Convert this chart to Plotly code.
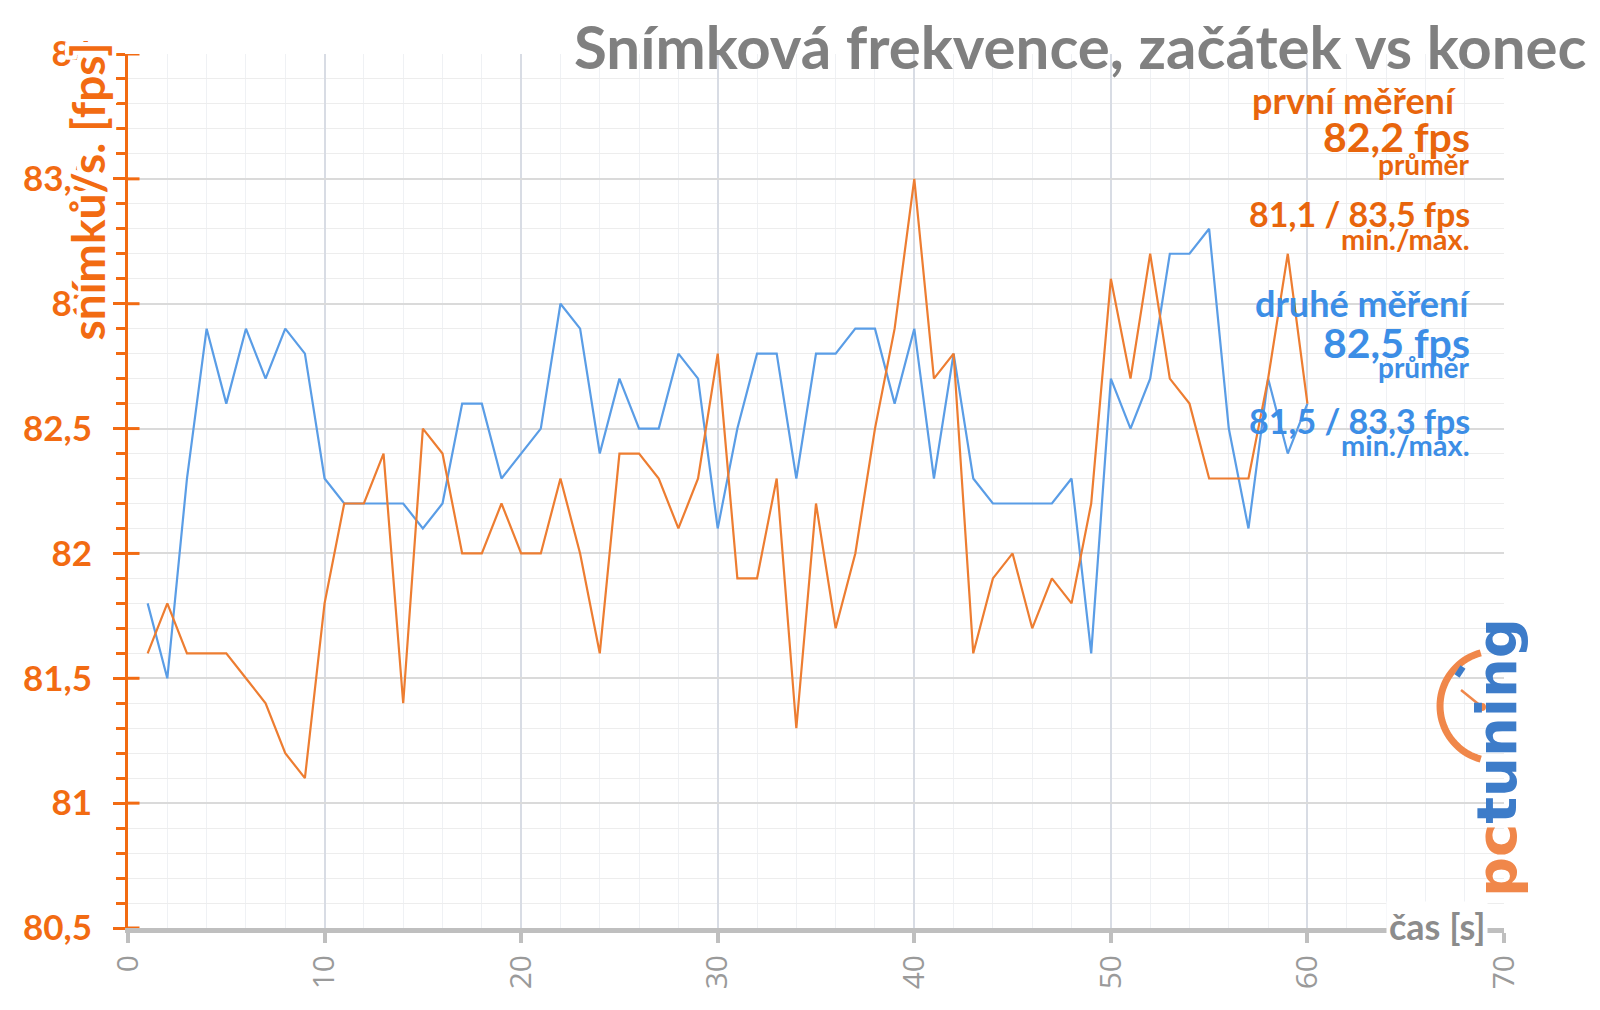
import plotly.graph_objects as go
import math

# ---------------- data ----------------
seconds = list(range(1, 61))
prvni_mereni = [81.6, 81.8, 81.6, 81.6, 81.6, 81.5, 81.4, 81.2, 81.1, 81.8,
                82.2, 82.2, 82.4, 81.4, 82.5, 82.4, 82.0, 82.0, 82.2, 82.0,
                82.0, 82.3, 82.0, 81.6, 82.4, 82.4, 82.3, 82.1, 82.3, 82.8,
                81.9, 81.9, 82.3, 81.3, 82.2, 81.7, 82.0, 82.5, 82.9, 83.5,
                82.7, 82.8, 81.6, 81.9, 82.0, 81.7, 81.9, 81.8, 82.2, 83.1,
                82.7, 83.2, 82.7, 82.6, 82.3, 82.3, 82.3, 82.7, 83.2, 82.6]
druhe_mereni = [81.8, 81.5, 82.3, 82.9, 82.6, 82.9, 82.7, 82.9, 82.8, 82.3,
                82.2, 82.2, 82.2, 82.2, 82.1, 82.2, 82.6, 82.6, 82.3, 82.4,
                82.5, 83.0, 82.9, 82.4, 82.7, 82.5, 82.5, 82.8, 82.7, 82.1,
                82.5, 82.8, 82.8, 82.3, 82.8, 82.8, 82.9, 82.9, 82.6, 82.9,
                82.3, 82.8, 82.3, 82.2, 82.2, 82.2, 82.2, 82.3, 81.6, 82.7,
                82.5, 82.7, 83.2, 83.2, 83.3, 82.5, 82.1, 82.7, 82.4, 82.6]

y_tickvals = [80.5, 81, 81.5, 82, 82.5, 83, 83.5, 84]
y_ticktext = ["80,5", "81", "81,5", "82", "82,5", "83", "83,5", "84"]
x_tickvals = [0, 10, 20, 30, 40, 50, 60, 70]
x_ticktext = ["0", "10", "20", "30", "40", "50", "60", "70"]

title_text = "Snímková frekvence, začátek vs konec"
y_title = "snímků/s. [fps]"
x_title = "čas [s]"
first_label = ["první měření ", "82,2 fps", "průměr", "81,1 / 83,5 fps", "min./max."]
second_label = ["druhé měření", "82,5 fps", "průměr", "81,5 / 83,3 fps", "min./max."]

# ---------------- styling ----------------
ORANGE_LINE = "#ed7d31"
BLUE_LINE = "#5a9de6"
ORANGE_TXT = "#e8650c"
BLUE_TXT = "#3c8ee6"
AXIS_ORANGE = "#f26b12"
GREY = "#808080"

OFF = 8  # page body margin in the browser
W, H = 1600 - OFF, 1010 - OFF
# plot area in window pixels
L, R, T, B = 127.5, 1504.0, 54.0, 928.0


def px(x):
    return (x - L) / (R - L)


def py(y):
    return (B - y) / (B - T)


fig = go.Figure()
fig.add_trace(go.Scatter(x=seconds, y=druhe_mereni, mode="lines",
                         line=dict(color=BLUE_LINE, width=2.2),
                         name="druhé měření", showlegend=False))
fig.add_trace(go.Scatter(x=seconds, y=prvni_mereni, mode="lines",
                         line=dict(color=ORANGE_LINE, width=2.2),
                         name="první měření", showlegend=False))

fig.update_layout(
    width=W, height=H,
    margin=dict(l=L - OFF, r=(W + OFF) - R, t=T - OFF, b=(H + OFF) - B, autoexpand=False),
    paper_bgcolor="white", plot_bgcolor="white",
    font=dict(family="Lato, Open Sans, sans-serif"),
    xaxis=dict(
        range=[0, 70], tickmode="array", tickvals=x_tickvals, ticktext=x_ticktext,
        tickangle=-90, tickfont=dict(family="Open Sans", size=30, color="#9a9a9a"),
        showline=True, linecolor="#bfbfbf", linewidth=5,
        ticks="outside", ticklen=10, tickwidth=4, tickcolor="#bfbfbf",
        showgrid=True, gridcolor="#d8dce4", gridwidth=1.5,
        minor=dict(tickmode="linear", tick0=0, dtick=2, showgrid=True,
                   gridcolor="#eff1f4", gridwidth=1, ticks=""),
        zeroline=False, fixedrange=True, ticklabelstandoff=0,
    ),
    yaxis=dict(
        range=[80.5, 84], tickmode="array", tickvals=y_tickvals, ticktext=y_ticktext,
        tickfont=dict(family="Lato", size=35, color=AXIS_ORANGE, weight="bold"),
        showline=True, linecolor=AXIS_ORANGE, linewidth=3,
        ticks="outside", ticklen=12, tickwidth=3, tickcolor=AXIS_ORANGE,
        showgrid=True, gridcolor="#dadada", gridwidth=2,
        minor=dict(tickmode="linear", tick0=80.5, dtick=0.1, showgrid=True,
                   gridcolor="#ededed", gridwidth=1, ticks="outside",
                   ticklen=9, tickwidth=3, tickcolor=AXIS_ORANGE),
        zeroline=False, fixedrange=True, ticklabelstandoff=14,
    ),
)

halo = ", ".join(f"{dx}px {dy}px 0 white" for dx in (-4, -2, 0, 2, 4) for dy in (-4, -2, 0, 2, 4))

ann = []
# title
ann.append(dict(text=title_text, x=px(1588), y=py(46), xref="paper", yref="paper",
                xanchor="right", yanchor="middle", showarrow=False,
                font=dict(family="Lato", size=60, color=GREY, weight="bold")))
# y axis title with white halo that hides overlapped tick labels, as in original
ann.append(dict(text=y_title, x=px(86), y=py(192), xref="paper", yref="paper",
                xanchor="center", yanchor="middle", showarrow=False, textangle=-90,
                font=dict(family="Lato", size=46, color=AXIS_ORANGE, weight="bold",
                          shadow=halo)))
# x axis title
ann.append(dict(text=x_title, x=px(1437), y=py(926), xref="paper", yref="paper",
                xanchor="center", yanchor="middle", showarrow=False,
                bgcolor="white", borderpad=2,
                font=dict(family="Lato", size=36, color="#8c8c8c", weight="bold")))

# stat labels
sizes = [36, 41, 28, 34, 29]
ys1 = [100, 136, 164, 214, 238]
ys2 = [303, 342, 367, 420, 444]
xs1 = [1465, 1472, 1472, 1472, 1472]
for txt, s, yy, xx in zip(first_label, sizes, ys1, xs1):
    ann.append(dict(text=txt, x=px(xx), y=py(yy), xref="paper", yref="paper",
                    xanchor="right", yanchor="middle", showarrow=False,
                    font=dict(family="Lato", size=s, color=ORANGE_TXT, weight="bold")))
for txt, s, yy in zip(second_label, sizes, ys2):
    ann.append(dict(text=txt, x=px(1472), y=py(yy), xref="paper", yref="paper",
                    xanchor="right", yanchor="middle", showarrow=False,
                    font=dict(family="Lato", size=s, color=BLUE_TXT, weight="bold")))

# logo text
ann.append(dict(text="<span style='color:#f0874a'>pc</span><span style='color:#3d7cc9'>tuning</span>",
                x=px(1496), y=py(758), xref="paper", yref="paper",
                xanchor="center", yanchor="middle", showarrow=False, textangle=-90,
                font=dict(family="DejaVu Sans", size=56, weight="bold")))
fig.update_layout(annotations=ann)

shapes = []
# major y ticks crossing the axis line (inner half)
for v in y_tickvals:
    shapes.append(dict(type="line", xref="paper", yref="y", x0=px(127.5), x1=px(139),
                       y0=v, y1=v, line=dict(color=AXIS_ORANGE, width=3), layer="above"))

# logo gauge arc (decoration)
cx, cy, r = 1495.0, 706.0, 55.0
pts = []
for k in range(0, 41):
    a = math.radians(105 + k * (150 / 40))
    pts.append((px(cx + r * math.cos(a)), py(cy - r * math.sin(a))))
path = "M " + " L ".join(f"{a:.5f},{b:.5f}" for a, b in pts)
shapes += [
    dict(type="path", path=path, xref="paper", yref="paper",
         line=dict(color="#f0874a", width=7)),
    dict(type="line", x0=px(1461), y0=py(690), x1=px(1482), y1=py(707),
         xref="paper", yref="paper", line=dict(color="#f0874a", width=2.5)),
    dict(type="circle", x0=px(1478), y0=py(703), x1=px(1486), y1=py(711),
         xref="paper", yref="paper", fillcolor="#f0874a", line=dict(width=0)),
    dict(type="line", x0=px(1457), y0=py(676), x1=px(1463), y1=py(667),
         xref="paper", yref="paper", line=dict(color="#3d7cc9", width=6)),
]
fig.update_layout(shapes=shapes)

fig.write_html("out.html")
